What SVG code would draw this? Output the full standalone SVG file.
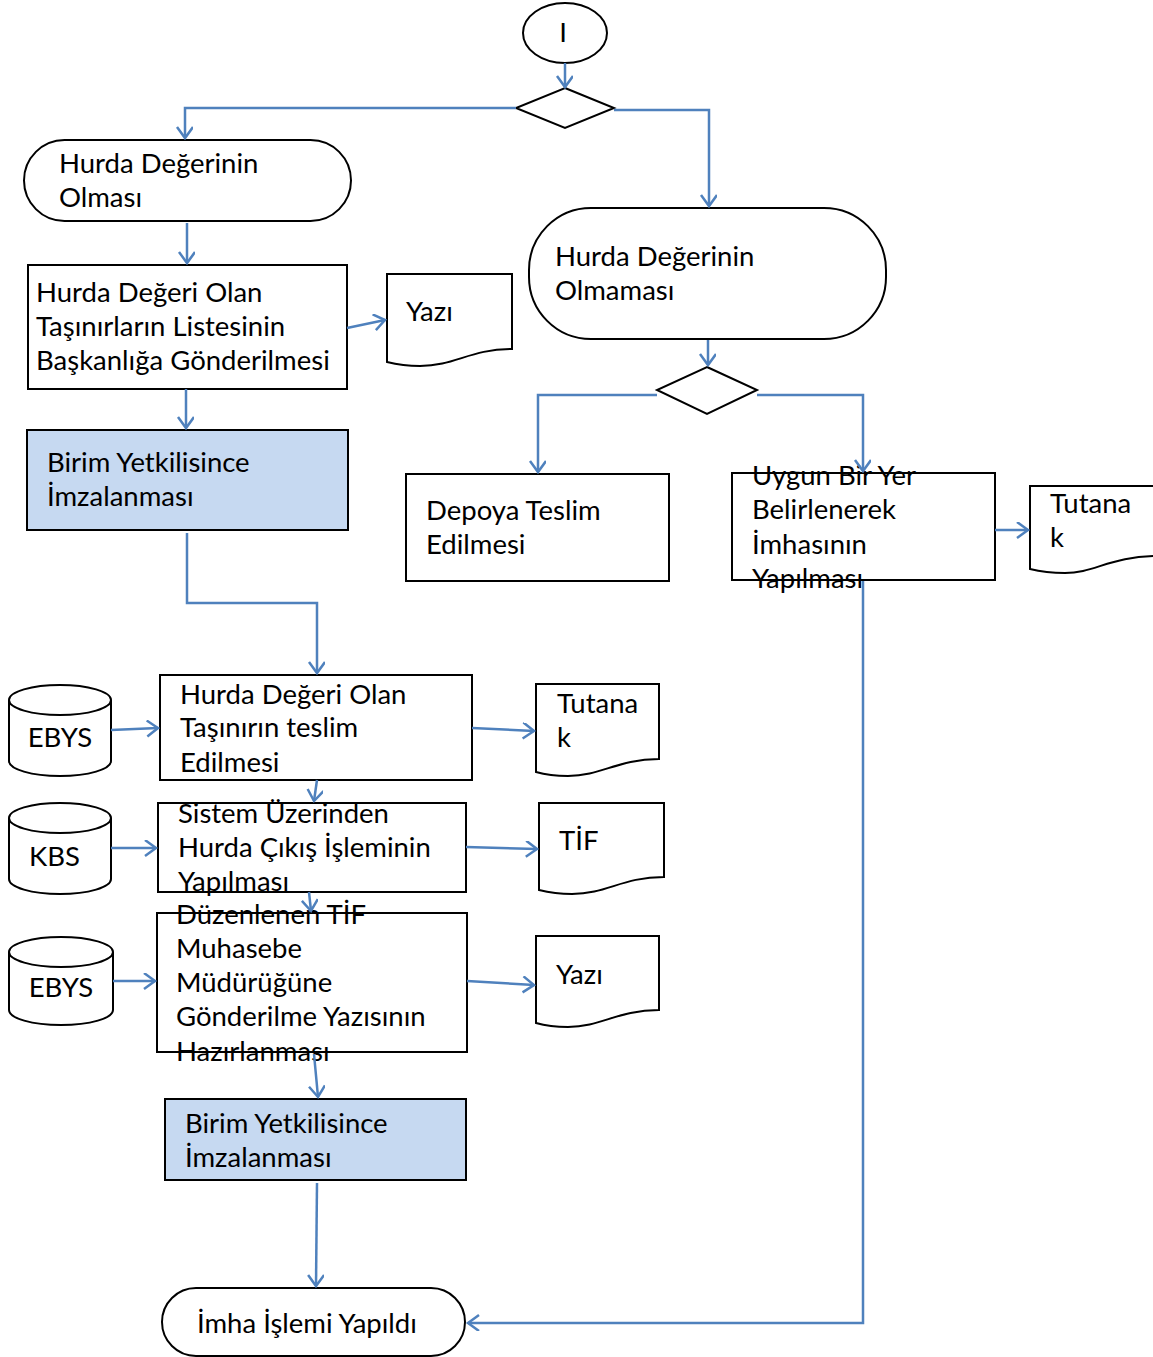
<svg xmlns="http://www.w3.org/2000/svg" width="1153" height="1357" viewBox="0 0 1153 1357">
<style>
.s{fill:#fff;stroke:#000;stroke-width:2}
.b{fill:#c6d9f1;stroke:#000;stroke-width:2}
.t{font-family:Lato,"Open Sans",sans-serif;font-size:27.5px;fill:#000}
.c{fill:none;stroke:#4f81bd;stroke-width:2.5}
</style>
<defs>
<marker id="a" markerUnits="userSpaceOnUse" markerWidth="24" markerHeight="24" refX="12" refY="8" orient="auto" viewBox="0 0 24 24">
<path d="M1,0 L12,8 L1,16" fill="none" stroke="#4f81bd" stroke-width="2.5"/>
</marker>
</defs>
<g id="start"><ellipse class="s" cx="565" cy="33" rx="42" ry="30"/><text class="t" x="563" y="42" text-anchor="middle">I</text></g>
<g id="d1"><polygon class="s" points="565,88 614,108 565,128 516,108"/></g>
<g id="n1"><rect class="s" x="24" y="140" width="327" height="81" rx="40.5"/><text class="t" x="59" y="173">Hurda Değerinin</text><text class="t" x="59" y="207">Olması</text></g>
<g id="n2"><rect class="s" x="28" y="265" width="319" height="124"/><text class="t" x="36" y="302">Hurda Değeri Olan</text><text class="t" x="36" y="336">Taşınırların Listesinin</text><text class="t" x="36" y="370">Başkanlığa Gönderilmesi</text></g>
<g id="doc1"><path class="s" d="M387,274 H512 V349 C470,349 455,366 420,366 C405,366 395,364 387,362 Z"/><text class="t" x="406" y="321">Yazı</text></g>
<g id="n3"><rect class="b" x="27" y="430" width="321" height="100"/><text class="t" x="47" y="472">Birim Yetkilisince</text><text class="t" x="47" y="506">İmzalanması</text></g>
<g id="n4"><rect class="s" x="529" y="208" width="357" height="131" rx="62"/><text class="t" x="555" y="266">Hurda Değerinin</text><text class="t" x="555" y="300">Olmaması</text></g>
<g id="d2"><polygon class="s" points="707,367 757,390 707,414 657,390"/></g>
<g id="n5"><rect class="s" x="406" y="474" width="263" height="107"/><text class="t" x="426" y="520">Depoya Teslim</text><text class="t" x="426" y="554">Edilmesi</text></g>
<g id="n6"><rect class="s" x="732" y="473" width="263" height="107"/><text class="t" x="752" y="485">Uygun Bir Yer</text><text class="t" x="752" y="519">Belirlenerek</text><text class="t" x="752" y="554">İmhasının</text><text class="t" x="752" y="588">Yapılması</text></g>
<g id="doc2"><path class="s" d="M1030,486 H1160 V556 C1110,556 1095,573 1065,573 C1050,573 1038,571 1030,569 Z"/><text class="t" x="1050" y="513">Tutana</text><text class="t" x="1050" y="547">k</text></g>
<g id="n7"><rect class="s" x="160" y="675" width="312" height="105"/><text class="t" x="180" y="704">Hurda Değeri Olan</text><text class="t" x="180" y="737">Taşınırın teslim</text><text class="t" x="180" y="772">Edilmesi</text></g>
<g id="db1"><path class="s" d="M9,700 A51,15 0 0 1 111,700 V761 A51,15 0 0 1 9,761 Z"/><path class="s" d="M9,700 A51,15 0 0 0 111,700" fill="none"/><text class="t" x="60" y="747" text-anchor="middle">EBYS</text></g>
<g id="doc3"><path class="s" d="M536,684 H659 V759 C617,759 602,776 568,776 C553,776 543,774 536,772 Z"/><text class="t" x="557" y="713">Tutana</text><text class="t" x="557" y="747">k</text></g>
<g id="n8"><rect class="s" x="158" y="803" width="308" height="89"/><text class="t" x="178" y="823">Sistem Üzerinden</text><text class="t" x="178" y="857">Hurda Çıkış İşleminin</text><text class="t" x="178" y="891">Yapılması</text></g>
<g id="db2"><path class="s" d="M9,818 A51,15 0 0 1 111,818 V879 A51,15 0 0 1 9,879 Z"/><path class="s" d="M9,818 A51,15 0 0 0 111,818" fill="none"/><text class="t" x="29" y="866">KBS</text></g>
<g id="doc4"><path class="s" d="M539,803 H664 V877 C622,877 607,894 572,894 C557,894 547,892 539,890 Z"/><text class="t" x="559" y="850">TİF</text></g>
<g id="n9"><rect class="s" x="157" y="913" width="310" height="139"/><text class="t" x="176" y="924">Düzenlenen TİF</text><text class="t" x="176" y="958">Muhasebe</text><text class="t" x="176" y="992">Müdürüğüne</text><text class="t" x="176" y="1026">Gönderilme Yazısının</text><text class="t" x="176" y="1061">Hazırlanması</text></g>
<g id="db3"><path class="s" d="M9,952 A52,15 0 0 1 113,952 V1010 A52,15 0 0 1 9,1010 Z"/><path class="s" d="M9,952 A52,15 0 0 0 113,952" fill="none"/><text class="t" x="61" y="997" text-anchor="middle">EBYS</text></g>
<g id="doc5"><path class="s" d="M536,936 H659 V1010 C617,1010 602,1027 568,1027 C553,1027 543,1025 536,1023 Z"/><text class="t" x="556" y="984">Yazı</text></g>
<g id="n10"><rect class="b" x="165" y="1099" width="301" height="81"/><text class="t" x="185" y="1133">Birim Yetkilisince</text><text class="t" x="185" y="1167">İmzalanması</text></g>
<g id="end"><rect class="s" x="162" y="1288" width="303" height="68" rx="34"/><text class="t" x="197" y="1333">İmha İşlemi Yapıldı</text></g>
<g id="connectors">
<path class="c" d="M565,63 V87" marker-end="url(#a)"/>
<path class="c" d="M516,108 H185 V138" marker-end="url(#a)"/>
<path class="c" d="M614,110 H709 V206" marker-end="url(#a)"/>
<path class="c" d="M187,223 V263" marker-end="url(#a)"/>
<path class="c" d="M347,328 L385,320" marker-end="url(#a)"/>
<path class="c" d="M186,389 V428" marker-end="url(#a)"/>
<path class="c" d="M187,533 V603 H317 V673" marker-end="url(#a)"/>
<path class="c" d="M708,340 V365" marker-end="url(#a)"/>
<path class="c" d="M657,395 H538 V472" marker-end="url(#a)"/>
<path class="c" d="M757,395 H863 V471" marker-end="url(#a)"/>
<path class="c" d="M995,530 H1028" marker-end="url(#a)"/>
<path class="c" d="M863,581 V1323 H468" marker-end="url(#a)"/>
<path class="c" d="M111,730 L158,728" marker-end="url(#a)"/>
<path class="c" d="M472,728 L534,731" marker-end="url(#a)"/>
<path class="c" d="M317,780 L314,801" marker-end="url(#a)"/>
<path class="c" d="M111,848 H156" marker-end="url(#a)"/>
<path class="c" d="M466,847 L537,849" marker-end="url(#a)"/>
<path class="c" d="M309,892 L311,911" marker-end="url(#a)"/>
<path class="c" d="M113,981 H155" marker-end="url(#a)"/>
<path class="c" d="M467,981 L534,985" marker-end="url(#a)"/>
<path class="c" d="M314,1054 L318,1097" marker-end="url(#a)"/>
<path class="c" d="M317,1183 L316,1286" marker-end="url(#a)"/>
</g>
</svg>
